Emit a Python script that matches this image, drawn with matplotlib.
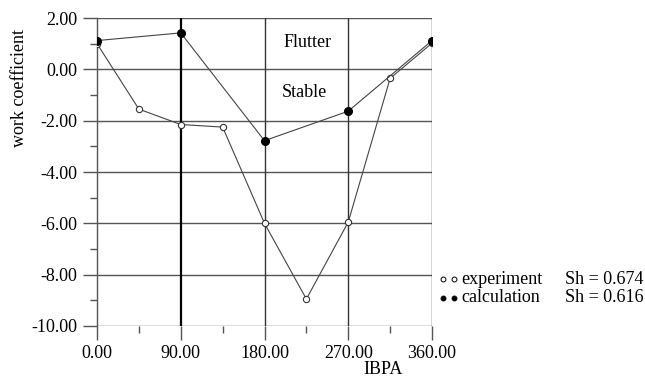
import matplotlib
matplotlib.use("Agg")
import matplotlib.pyplot as plt
from matplotlib.lines import Line2D

# Data
ibpa_exp = [0, 45, 90, 135, 180, 225, 270, 315, 360]
work_exp = [1.0, -1.55, -2.15, -2.25, -6.0, -8.95, -5.95, -0.35, 1.02]
ibpa_calc = [0, 90, 180, 270, 360]
work_calc = [1.12, 1.42, -2.78, -1.63, 1.12]
xticks = [0, 90, 180, 270, 360]
yticks = [2, 0, -2, -4, -6, -8, -10]
xtick_labels = ["0.00", "90.00", "180.00", "270.00", "360.00"]
ytick_labels = ["2.00", "0.00", "-2.00", "-4.00", "-6.00", "-8.00", "-10.00"]

plt.rcParams['font.family'] = ['Liberation Serif', 'DejaVu Serif']
fs = 13

fig = plt.figure(figsize=(6.45, 3.77), dpi=100)
ax = fig.add_axes([97/645, 1-326/377, (432-97)/645, (326-18)/377])
ax.set_xlim(0, 360)
ax.set_ylim(-10, 2)

gc = '#555555'
for y in yticks:
    ax.axhline(y, color=gc, lw=1.0, zorder=1)
for x in [180, 270, 360]:
    ax.axvline(x, color='#333333', lw=1.0, zorder=1)
ax.axvline(90, color='black', lw=1.6, zorder=1)

for s in ['top', 'right', 'bottom']:
    ax.spines[s].set_visible(False)
ax.spines['left'].set_color(gc)
ax.spines['left'].set_linewidth(1.0)

ax.set_xticks(xticks)
ax.set_xticklabels(xtick_labels)
ax.set_yticks(yticks)
ax.set_yticklabels(ytick_labels)
ax.set_xticks([45, 135, 225, 315], minor=True)
ax.set_yticks([1, -1, -3, -5, -7, -9], minor=True)
ax.tick_params(axis='both', which='major', direction='out', length=10, width=1.0,
               color=gc, labelsize=fs, pad=4)
ax.tick_params(axis='both', which='minor', direction='out', length=5, width=1.0, color=gc)

ax.plot(ibpa_exp, work_exp, color='#444444', lw=0.8, marker='o', markersize=4.5,
        markerfacecolor='white', markeredgecolor='#333333', markeredgewidth=0.8, zorder=3)
ax.plot(ibpa_calc, work_calc, color='#444444', lw=0.8, marker='o', markersize=5.5,
        markerfacecolor='black', markeredgecolor='black', zorder=4)

ax.text(226, 1.04, "Flutter", ha='center', va='center', fontsize=fs)
ax.text(223, -0.9, "Stable", ha='center', va='center', fontsize=fs)

fig.text(20/645, 1-88/377, "work coefficient", rotation=90, ha='center', va='center', fontsize=fs)
fig.text(383/645, 1-370/377, "IBPA", ha='center', va='center', fontsize=fs)

# legend (manual)
rows = [(279, "experiment", "Sh = 0.674", 'white'), (298, "calculation", "Sh = 0.616", 'black')]
for yy, lab, sh, fc in rows:
    for xx in (443, 454):
        fig.add_artist(Line2D([xx/645], [1-yy/377], marker='o', markersize=3.5,
                              markerfacecolor=fc, markeredgecolor='black',
                              markeredgewidth=0.7, linestyle='none'))
    fig.text(461/645, 1-yy/377, lab, ha='left', va='center', fontsize=fs)
    fig.text(565/645, 1-yy/377, sh, ha='left', va='center', fontsize=fs)

fig.savefig("out.png", dpi=100)
